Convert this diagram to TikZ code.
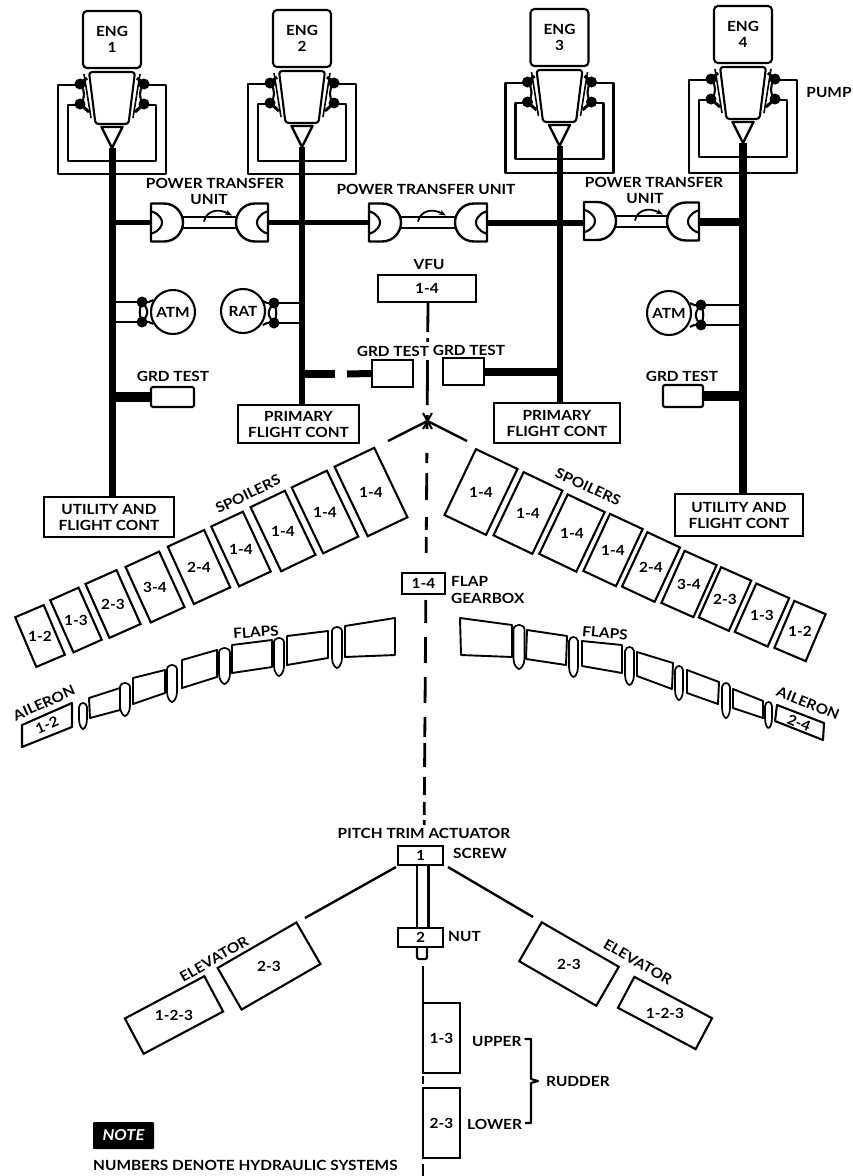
\documentclass[tikz,border=0pt]{standalone}
\usepackage{fontspec}
\setmainfont{Lato}[FakeStretch=1.1]
\usetikzlibrary{arrows.meta,calc}
\newcommand\lbl{\bfseries\fontsize{14}{16}\selectfont}
\tikzset{
  ln/.style={line width=2.1pt,line join=round},
  bus/.style={line width=#1,line cap=butt},
  boxn/.style={draw,line width=2.1pt,fill=white,inner sep=0pt,align=center,font=\lbl},
  txt/.style={inner sep=0pt,align=center,font=\lbl},
  dashl/.style={line width=2.8pt},
}
% engine unit: id, cx, dy, number, outer bottom, inner bottom
\newcommand\engunit[6]{%
\begin{scope}[shift={(#2,#3)}]
  \node[boxn,rounded corners=4pt,minimum width=58pt,minimum height=57pt] (eng#1) at (0,39.5) {ENG\\#4};
  % return and pressure loops
  \draw[ln] (-32,85) -- (-54,85) -- (-54,#5) -- (54,#5) -- (54,85) -- (32,85);
  \draw[ln] (-32,105) -- (-44,105) -- (-44,#6) -- (44,#6) -- (44,105) -- (32,105);
  % side ducts
  \foreach \s in {-1,1}{
    \begin{scope}[xscale=\s]
      \draw[ln] (31,85) .. controls (27,91) and (27,98) .. (31,104);
      \draw[ln,line width=1.6pt] (28,74) -- (21,118);
      \fill (32,84) circle (5.5);
      \fill (32,104) circle (5.5);
      \draw[line width=3pt] (32,84) -- (25,78);
      \draw[line width=3pt] (32,104) -- (23,112);
    \end{scope}}
  \draw[ln,fill=white,rounded corners=3pt] (-23,72) -- (23,72) -- (16.5,124) -- (-16.5,124) -- cycle;
  \draw[ln,fill=white,line width=2.4pt] (-10.5,127) -- (10.5,127) -- (0,148) -- cycle;
  \coordinate (tip#1) at (0,148);
\end{scope}}
% half of a power transfer unit
\newcommand\ptuhalf[4]{%
\coordinate (#1) at (#2,#3);
\begin{scope}[shift={(#2,#3)},xscale=#4]
  \draw[ln,fill=white,line width=2.4pt] (0,-19) -- (13,-19) .. controls (25,-19) and (32,-9) .. (32,0) .. controls (32,9) and (25,19) .. (13,19) -- (0,19) -- cycle;
  \draw[ln] (1,-11) .. controls (9,-8) and (11,-3) .. (11,0) .. controls (11,3) and (9,8) .. (1,11);
\end{scope}}
% PTU linking shaft with its arrow
\newcommand\ptushaft[4]{%
  \draw[ln,fill=white] (#1,{#3-5.5}) rectangle (#2,{#3+5.5});
  \draw[line width=1.8pt,-{Stealth[length=7pt,width=5pt]}] ({#4},{#3-1}) .. controls ({#4+2},{#3-11}) and ({#4+13},{#3-15}) .. ({#4+28},{#3-7});}
% hydraulic motor connection
\newcommand\motorlink[5]{%
  \coordinate (#1t) at (#2,#3);
  \coordinate (#1b) at (#2,#4);
  \begin{scope}[shift={(#2,#3)},xscale=#5]
    \draw[ln] (0,0) .. controls (-3,6) and (-3,14) .. (0,20);
    \draw[ln] (0,0) .. controls (5,2) and (11,-2) .. (11,-2);
    \draw[ln] (0,20) .. controls (5,18) and (11,22) .. (11,22);
    \draw[ln] (0,0) .. controls (7,8) and (7,12) .. (0,20);
    \fill (0,0) circle (5.5);
    \fill (0,20) circle (5.5);
  \end{scope}}
% tilted surface with an upright number
\newcommand\surf[7]{%
  \node[draw,line width=2.1pt,fill=white,inner sep=0pt,rotate=#4,minimum width=#5pt,minimum height=#6pt] (#1) at (#2,#3) {};
  \node[txt] (#1t) at (#2,#3) {#7};}
% flap vane (bullet shape)
\newcommand\vane[4]{%
  \draw[line width=1.7pt,fill=white] ({#1-#4},{#2+4}) .. controls ({#1-#4},{#2+1}) and ({#1-1},{#2}) .. (#1,#2)
    .. controls ({#1+1},{#2}) and ({#1+#4},{#2+1}) .. ({#1+#4},{#2+4})
    -- ({#1+#4},{#3-10}) .. controls ({#1+#4},{#3-3}) and ({#1+1},{#3}) .. (#1,#3)
    .. controls ({#1-1},{#3}) and ({#1-#4},{#3-3}) .. ({#1-#4},{#3-10}) -- cycle;}
\begin{document}
\begin{tikzpicture}[x=1pt,y=-1pt]
\useasboundingbox[fill=white] (0,0) rectangle (852,1176);

% ===== engines =====
\engunit{1}{112}{0}{1}{174}{161}
\engunit{2}{302}{-1}{2}{175}{162}
\engunit{3}{559.5}{-2}{3}{175}{161}
\engunit{4}{743}{-5}{4}{178}{162}
\node[txt] (pump) at (829,92) {PUMP};

% ===== boxes at the bus ends =====
\node[boxn,minimum width=130pt,minimum height=40pt] (util1) at (109,517) {UTILITY AND\\FLIGHT CONT};
\node[boxn,minimum width=128pt,minimum height=42pt] (util4) at (739,515) {UTILITY AND\\FLIGHT CONT};
\node[boxn,minimum width=121pt,minimum height=38pt] (prim2) at (298.5,424) {PRIMARY\\FLIGHT CONT};
\node[boxn,minimum width=126pt,minimum height=40pt] (prim3) at (557,423) {PRIMARY\\FLIGHT CONT};

% ===== vertical buses =====
\draw[bus=7pt] (tip1) -- (tip1 |- util1.north);
\draw[bus=6pt] (tip2) -- (tip2 |- prim2.north);
\draw[bus=6pt] (tip3) -- (tip3 |- prim3.north);
\draw[bus=7.5pt] (tip4) -- (tip4 |- util4.north);

% ===== power transfer units =====
\ptushaft{180}{238}{222.5}{204}
\ptushaft{400}{456}{222.5}{418}
\ptushaft{615}{670}{221.5}{635}
\ptuhalf{p1l}{151}{222.5}{1}
\ptuhalf{p1r}{268}{222.5}{-1}
\ptuhalf{p2l}{369}{222.5}{1}
\ptuhalf{p2r}{487}{222.5}{-1}
\ptuhalf{p3l}{584}{221}{1}
\ptuhalf{p3r}{699}{221.5}{-1}
\draw[bus=5.5pt] (tip1 |- p1l) -- (p1l);
\draw[bus=5.5pt] (p1r) -- (p2l);
\draw[bus=6pt] (p2r) -- (p2r -| p3l);
\draw[bus=8pt] (p3r) -- (tip4 |- p3r);
\node[txt] (pt1a) at (215,183) {POWER TRANSFER};
\node[txt] (pt1b) at (209,199) {UNIT};
\node[txt] (pt2) at (426,189) {POWER TRANSFER UNIT};
\node[txt] (pt3a) at (654,182) {POWER TRANSFER};
\node[txt] (pt3b) at (645,198) {UNIT};

% ===== motors =====
\motorlink{m1}{142}{302}{322}{1}
\node[boxn,circle,minimum size=44pt] (atm1) at (173,312) {ATM};
\draw[ln] (m1t) -- (tip1 |- m1t);
\draw[ln] (m1b) -- (tip1 |- m1b);
\motorlink{m2}{274}{303}{323}{-1}
\node[boxn,circle,minimum size=44pt] (rat) at (243,311) {RAT};
\draw[ln] (m2t) -- (tip2 |- m2t);
\draw[ln] (m2b) -- (tip2 |- m2b);
\motorlink{m4}{701}{305}{325}{-1}
\node[boxn,circle,minimum size=44pt] (atm4) at (669,313) {ATM};
\draw[ln] (m4t) -- (tip4 |- m4t);
\draw[ln] (m4b) -- (tip4 |- m4b);

% ===== centre dashed shaft =====
\coordinate (vb) at (428,302);
\coordinate (trimtop) at (424,846);
\draw[dashl,dash pattern=on 30pt off 6pt on 4pt off 18pt on 45pt off 10pt on 14pt off 24pt on 10pt off 10pt on 27pt off 17pt on 13pt off 7pt on 16pt off 20pt on 21pt off 6pt on 23pt off 14pt on 26pt off 14pt on 26pt off 14pt on 20pt off 6pt on 24pt off 10pt on 18pt off 7pt on 13pt off 5pt on 5pt off 100pt] (vb) -- (trimtop);

% ===== VFU, ground test =====
\node[txt] (vfut) at (429,264) {VFU};
\node[boxn,minimum width=98pt,minimum height=27pt] (vfu) at (427,288.5) {1-4};
\node[txt] (g1t) at (173,376) {GRD TEST};
\node[boxn,rounded corners=1.5pt,minimum width=43pt,minimum height=20pt] (g1) at (172.5,397) {};
\draw[bus=10pt] (g1.west) -- (tip1 |- g1.west);
\node[txt] (g2t) at (393,351) {GRD TEST};
\node[boxn,minimum width=41pt,minimum height=27pt] (g2) at (392.5,373.5) {};
\coordinate (g2a) at (335,374);
\coordinate (g2b) at (347,374);
\draw[bus=7pt] (g2.west) -- (g2b);
\draw[bus=7.5pt] (g2a) -- (tip2 |- g2a);
\node[txt] (g3t) at (469,350) {GRD TEST};
\node[boxn,minimum width=41pt,minimum height=27pt] (g3) at (463.5,371.5) {};
\draw[bus=8pt] (g3.east) -- (tip3 |- g3.east);
\node[txt] (g4t) at (682,376) {GRD TEST};
\node[boxn,rounded corners=2pt,minimum width=40pt,minimum height=22pt] (g4) at (683,396) {};
\draw[bus=10pt] (g4.east) -- (tip4 |- g4.east);

% ===== cross at the wing root =====
\coordinate (xc) at (427.5,421);
\coordinate (xl) at (388,441);
\coordinate (xr) at (467,441);
\draw[line width=2.4pt] (xl) -- (xc) -- (xr);
\draw[line width=2pt] (423,413) -- (432,429);
\draw[line width=2pt] (432,413) -- (423,429);

% ===== left spoilers =====
\surf{sl1}{371}{492}{25.5}{44}{77}{1-4}
\surf{sl2}{325}{512}{25.5}{39}{73}{1-4}
\surf{sl3}{283}{531}{25.5}{38}{71}{1-4}
\surf{sl4}{241}{549}{25}{35}{66}{1-4}
\surf{sl5}{199}{567}{24.5}{40}{63}{2-4}
\surf{sl6}{155}{587}{24.5}{37}{61}{3-4}
\surf{sl7}{113}{604}{24}{34}{59}{2-3}
\surf{sl8}{76}{620}{24}{31}{57}{1-3}
\surf{sl9}{40}{636}{23}{31}{54}{1-2}
\node[txt,rotate=26] (spl) at (248,494) {SPOILERS};

% ===== right spoilers =====
\surf{sr1}{481}{492}{-25.5}{46}{73}{1-4}
\surf{sr2}{528}{513}{-25.5}{43}{70}{1-4}
\surf{sr3}{572}{533}{-25.5}{41}{66}{1-4}
\surf{sr4}{613}{550}{-25}{36}{63}{1-4}
\surf{sr5}{651}{567}{-25}{36}{60}{2-4}
\surf{sr6}{689}{584}{-24}{35}{57}{3-4}
\surf{sr7}{725}{599}{-24}{33}{55}{2-3}
\surf{sr8}{762}{615}{-24}{36}{53}{1-3}
\surf{sr9}{800}{631}{-23}{34}{51}{1-2}
\node[txt,rotate=-25] (spr) at (588,487) {SPOILERS};

% ===== flap gearbox =====
\node[boxn,minimum width=43pt,minimum height=21pt] (fg) at (423.5,583.5) {1-4};
\node[txt,anchor=west] (fgt) at (451,581) {FLAP};
\node[txt,anchor=west] (fgu) at (451,598) {GEARBOX};

% ===== left flaps =====
\begin{scope}[line width=1.9pt,line join=round]
\draw (345,626) -- (395,618) -- (395,655) -- (345,657) -- cycle;
\draw (287,636) -- (328,631) -- (328,658) -- (287,665) -- cycle;
\draw (232,645) -- (272,640) -- (272,667) -- (232,673) -- cycle;
\draw (182,660) -- (217,650) -- (217,677) -- (182,688) -- cycle;
\draw (133,678) -- (165,670) -- (165,693) -- (133,704) -- cycle;
\draw (89,698) -- (120,688) -- (120,710) -- (90,718) -- cycle;
\vane{337}{627}{668}{5}
\vane{279}{638}{676}{5}
\vane{224.5}{648}{684}{5.5}
\vane{172}{665}{702}{5}
\vane{125}{683}{716}{5}
\vane{83}{703}{729}{4}
\draw[line width=2.1pt] (22,725) -- (72,703) -- (72,727) -- (22,747) -- cycle;
% ===== right flaps =====
\draw (460,618) -- (512,625) -- (512,657) -- (461,655) -- cycle;
\draw (527,630) -- (567,636) -- (566,665) -- (526,659) -- cycle;
\draw (582,641) -- (622,645) -- (622,673) -- (582,666) -- cycle;
\draw (637,652) -- (673,663) -- (672,689) -- (637,676) -- cycle;
\draw (687,670) -- (719,682) -- (718,704) -- (687,693) -- cycle;
\draw (733,689) -- (763,701) -- (763,718) -- (733,708) -- cycle;
\vane{519}{625}{669}{5.5}
\vane{573.5}{637}{677}{4.5}
\vane{629.5}{647}{685}{4.5}
\vane{679}{666}{700}{4}
\vane{726}{683}{718}{4}
\vane{768.5}{702}{728}{3.5}
\draw[line width=2.1pt] (777,705) -- (824,723) -- (823,740) -- (775,721) -- cycle;
\end{scope}
\node[txt,rotate=4] (fl) at (256,632) {FLAPS};
\node[txt,rotate=-5] (fr) at (605,633) {FLAPS};
\node[txt,rotate=24] (al) at (44,703) {AILERON};
\node[txt,rotate=23] (alb) at (47,725) {1-2};
\node[txt,rotate=-22] (ar) at (808,703) {AILERON};
\node[txt,rotate=-22] (arb) at (799,723) {2-4};

% ===== pitch trim =====
\node[txt] (pt) at (424,833) {PITCH TRIM ACTUATOR};
\node[boxn,minimum width=45pt,minimum height=19pt] (screw) at (420.5,855.5) {1};
\node[txt,anchor=west] (screwt) at (453,853) {SCREW};
\node[boxn,minimum width=45pt,minimum height=19pt] (nut) at (420.5,937.5) {2};
\node[txt,anchor=west] (nutt) at (448,936) {NUT};
\draw[ln,line width=2.6pt] ($(screw.south)+(-3.5,0)$) -- ($(nut.north)+(-3.5,0)$);
\draw[ln,line width=2.6pt] ($(screw.south)+(8,0)$) -- ($(nut.north)+(8,0)$);
\draw[ln,rounded corners=2pt] ($(nut.south)+(-3.5,0)$) -- ($(nut.south)+(-3.5,11)$) -- ($(nut.south)+(6.5,11)$) -- ($(nut.south)+(6.5,0)$);

% ===== elevators =====
\surf{el2}{269}{966}{30}{91}{48}{2-3}
\surf{el1}{174}{1015}{28}{90}{40}{1-2-3}
\surf{er2}{569}{964}{-30}{89}{45}{2-3}
\surf{er1}{665}{1013}{-28}{88}{35}{1-2-3}
\node[txt,rotate=30] (elt) at (214,959) {ELEVATOR};
\node[txt,rotate=-30] (ert) at (638,962) {ELEVATOR};
\coordinate (lsw) at (396,867);
\coordinate (lse) at (305,918);
\coordinate (rsw) at (448,867);
\coordinate (rse) at (533,917);
\draw[line width=2.4pt] (lsw) -- (lse);
\draw[line width=2.4pt] (rsw) -- (rse);

% ===== rudder =====
\node[boxn,minimum width=37pt,minimum height=70pt] (ru) at (441.5,1038) {1-3};
\node[boxn,minimum width=37pt,minimum height=70pt] (rl) at (441.5,1123) {2-3};
\coordinate (ubot) at (423,966);
\coordinate (btm) at (423,1176);
\draw[dashl] (ubot) -- (ubot |- ru.north);
\draw[dashl] (423,1076) -- (423,1084);
\draw[dashl] (423,1164) -- (btm);
\node[txt,anchor=west] (up) at (472,1041) {UPPER};
\node[txt,anchor=west] (lo) at (467,1124) {LOWER};
\node[txt,anchor=west] (rud) at (546,1081) {RUDDER};
\draw[ln] ($(up.east)+(3,-2)$) -- (531,1039) -- (531,1079) -- (538,1081) -- (531,1083) -- (531,1123) -- ($(lo.east)+(3,-1)$);

% ===== note =====
\node[fill=black,text=white,inner sep=0pt,rounded corners=1pt,minimum width=61pt,minimum height=27pt,font=\bfseries\itshape\fontsize{15}{17}\selectfont] (note) at (123.5,1135.5) {NOTE};
\node[txt,anchor=west] (notet) at (93,1165) {NUMBERS DENOTE HYDRAULIC SYSTEMS};
\end{tikzpicture}
\end{document}
